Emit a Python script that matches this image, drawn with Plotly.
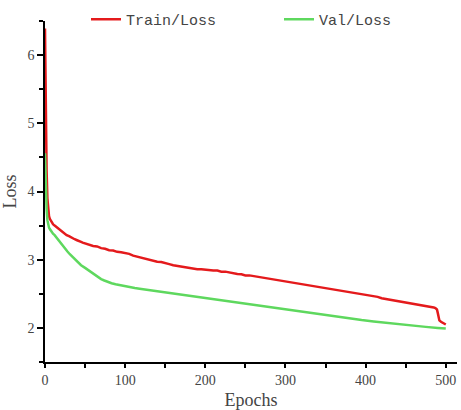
import plotly.graph_objects as go

# ---- data ----
train_epochs = [0, 1, 2, 3, 4, 5, 6, 8, 10, 12, 15, 17, 20, 22, 25, 27, 30, 32, 35, 37, 40, 42, 45, 47, 50,
                55, 60, 65, 70, 75, 80, 85, 90, 95, 100, 105, 110, 115, 120, 125, 130, 135, 140, 145, 150,
                155, 160, 165, 170, 175, 180, 185, 190, 195, 200, 205, 210, 215, 220, 225, 230, 235, 240,
                245, 250, 255, 260, 265, 270, 275, 280, 285, 290, 295, 300, 305, 310, 315, 320, 325, 330,
                335, 340, 345, 350, 355, 360, 365, 370, 375, 380, 385, 390, 395, 400, 405, 410, 415, 420,
                425, 430, 435, 440, 445, 450, 455, 460, 465, 470, 475, 480, 485, 487, 489, 490, 491, 492,
                494, 496, 498, 500]
train_loss = [6.39, 5.10, 4.30, 3.90, 3.72, 3.64, 3.60, 3.55, 3.52, 3.50, 3.47, 3.45, 3.43, 3.40, 3.38, 3.36,
              3.345, 3.33, 3.31, 3.30, 3.285, 3.27, 3.26, 3.25, 3.24,
              3.225, 3.20, 3.195, 3.17, 3.16, 3.14, 3.135, 3.115, 3.11, 3.10, 3.085, 3.06, 3.045, 3.025,
              3.015, 2.995, 2.985, 2.97, 2.965, 2.945,
              2.935, 2.92, 2.91, 2.895, 2.89, 2.88, 2.875, 2.86, 2.86, 2.85, 2.85, 2.84, 2.84, 2.825,
              2.825, 2.81, 2.805, 2.79, 2.785, 2.77, 2.77, 2.76, 2.755, 2.74, 2.735, 2.72, 2.715, 2.70,
              2.695, 2.68, 2.675, 2.66, 2.66, 2.645, 2.635, 2.62, 2.615, 2.605, 2.60, 2.58, 2.575, 2.56,
              2.56, 2.545, 2.54, 2.525, 2.52, 2.50, 2.495, 2.48, 2.475, 2.46, 2.455, 2.435, 2.425, 2.41,
              2.405, 2.395, 2.39, 2.37, 2.365, 2.35, 2.345, 2.33, 2.325, 2.31, 2.30, 2.29, 2.27, 2.22,
              2.15, 2.11, 2.09, 2.08, 2.065, 2.05]

val_epochs = [0, 1, 2, 3, 4, 5, 6, 8, 10, 12, 14, 16, 19, 22, 25, 28, 31, 35, 40, 45, 50, 56, 62, 66, 70,
              74, 78, 83, 88, 93, 98, 105, 112, 118, 130, 143, 156, 168, 180, 193, 205, 218, 232, 245, 258,
              270, 281, 295, 310, 318, 330, 345, 360, 370, 381, 395, 410, 425, 443, 460, 475, 490, 500]
val_loss = [4.56, 4.05, 3.75, 3.58, 3.50, 3.47, 3.45, 3.41, 3.38, 3.36, 3.33, 3.29, 3.24, 3.20, 3.16, 3.12,
            3.08, 3.03, 2.97, 2.92, 2.88, 2.83, 2.78, 2.745, 2.715, 2.695, 2.675, 2.655, 2.64, 2.627, 2.615,
            2.60, 2.585, 2.575, 2.555, 2.53, 2.51, 2.49, 2.465, 2.44, 2.42, 2.40, 2.375, 2.355, 2.335, 2.315,
            2.30, 2.275, 2.25, 2.235, 2.215, 2.19, 2.17, 2.155, 2.135, 2.115, 2.095, 2.075, 2.05, 2.03, 2.015,
            2.00, 1.99]

x_ticks = [0, 100, 200, 300, 400, 500]
y_ticks = [2, 3, 4, 5, 6]

RED = "#E41A1C"
GREEN = "#5ED85E"
SERIF = "Liberation Serif, DejaVu Serif, serif"
MONO = "Liberation Mono, DejaVu Sans Mono, monospace"

fig = go.Figure()
fig.add_trace(go.Scatter(x=train_epochs, y=train_loss, mode="lines", name="Train/Loss",
                         line=dict(color=RED, width=2.5)))
fig.add_trace(go.Scatter(x=val_epochs, y=val_loss, mode="lines", name="Val/Loss",
                         line=dict(color=GREEN, width=2.5)))

axis_common = dict(showline=True, linecolor="black", linewidth=1.5, showgrid=False, zeroline=False,
                   ticks="outside", tickcolor="black", tickwidth=1.5, mirror=False, automargin=False,
                   tickfont=dict(family=SERIF, size=14, color="#444"))

fig.update_xaxes(range=[0, 514], tickvals=x_ticks, ticklen=4,
                 minor=dict(dtick=50, tick0=0, ticks="outside", ticklen=4, tickwidth=1.5, tickcolor="black"),
                 title=dict(text="Epochs", font=dict(family=SERIF, size=18, color="#444"), standoff=12),
                 **axis_common)
fig.update_yaxes(range=[1.5, 6.5], tickvals=y_ticks, ticklen=6,
                 minor=dict(dtick=0.5, tick0=1.5, ticks="outside", ticklen=4, tickwidth=1.5, tickcolor="black"),
                 title=dict(text="Loss", font=dict(family=SERIF, size=18, color="#444"), standoff=6),
                 **axis_common)

fig.update_layout(
    width=461, height=410,
    margin=dict(l=45, r=4, t=21, b=48, autoexpand=False),
    paper_bgcolor="white", plot_bgcolor="white",
    legend=dict(orientation="h", xref="container", yref="container",
                x=86 / 461, xanchor="left", y=1 - 19.5 / 410, yanchor="middle",
                font=dict(family=MONO, size=15, color="#444"),
                entrywidth=148, entrywidthmode="pixels", bgcolor="rgba(0,0,0,0)"),
    showlegend=True,
)

fig.write_html("out.html", config={"displayModeBar": False},
               post_script="document.body.style.margin='0';document.body.style.overflow='hidden';")
